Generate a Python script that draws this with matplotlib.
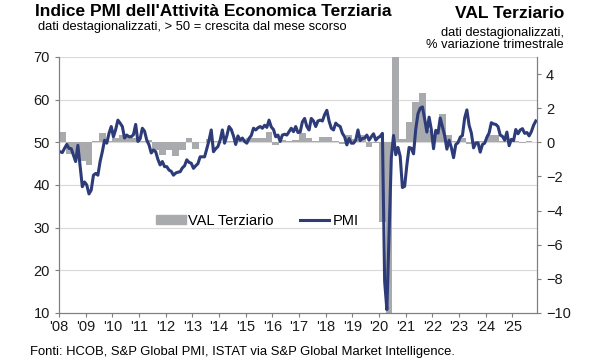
import numpy as np
import matplotlib
matplotlib.use("Agg")
import matplotlib.pyplot as plt
from matplotlib.patches import Patch
from matplotlib.lines import Line2D

plt.rcParams["font.family"] = ["Liberation Sans", "DejaVu Sans"]

# Indice PMI servizi, mensile (gen 2008 - nov 2025)
pmi = [
    47.8, 47.6, 48.6, 49.5, 48.6, 48.5, 47.0, 45.5, 49.3, 44.5, 39.6, 40.7,   # 2008
    40.0, 37.9, 38.8, 42.3, 42.7, 42.3, 45.5, 47.8, 50.5, 49.8, 52.1, 53.7,   # 2009
    51.3, 53.0, 55.2, 54.5, 53.7, 51.0, 51.7, 51.3, 51.3, 51.8, 54.2, 50.2,   # 2010
    50.8, 53.3, 52.6, 50.5, 49.4, 47.5, 48.2, 47.8, 46.0, 44.7, 45.5, 44.3,   # 2011
    44.3, 43.5, 43.2, 42.3, 42.8, 43.0, 43.1, 44.0, 44.5, 45.9, 45.3, 45.1,   # 2012
    43.9, 44.5, 45.0, 46.6, 46.6, 46.6, 48.5, 50.5, 52.9, 47.8, 48.5, 49.0,   # 2013
    50.5, 52.9, 49.8, 51.5, 53.7, 53.0, 51.5, 49.5, 51.5, 50.5, 51.0, 50.2,   # 2014
    49.8, 50.9, 51.6, 53.3, 52.9, 53.4, 53.7, 53.3, 54.0, 53.5, 55.2, 53.6,   # 2015
    53.0, 51.3, 51.7, 50.2, 51.7, 51.9, 51.7, 52.5, 53.3, 52.5, 53.7, 52.3,   # 2016
    52.4, 54.8, 55.6, 53.7, 52.9, 55.6, 55.0, 53.7, 55.0, 55.2, 55.0, 56.5,   # 2017
    57.5, 55.0, 53.3, 52.9, 54.5, 54.0, 53.7, 52.1, 51.3, 49.4, 50.9, 49.8,   # 2018
    49.8, 50.5, 52.9, 50.4, 50.9, 51.0, 51.7, 50.5, 51.3, 52.0, 50.5, 51.1,   # 2019
    51.4, 52.1, 17.4, 10.8, 28.9, 46.4, 51.6, 47.1, 48.8, 46.7, 39.4, 39.7,   # 2020
    44.7, 48.8, 48.6, 47.3, 53.1, 56.7, 58.0, 58.3, 55.5, 52.4, 55.9, 53.0,   # 2021
    48.5, 52.8, 52.1, 55.7, 53.7, 51.6, 48.4, 50.5, 48.8, 46.4, 49.5, 49.9,   # 2022
    51.2, 51.6, 55.7, 57.6, 54.0, 52.2, 48.7, 49.8, 49.9, 47.7, 49.5, 49.8,   # 2023
    51.2, 52.2, 54.6, 54.3, 54.2, 53.7, 51.7, 51.4, 50.5, 52.4, 49.2, 50.7,   # 2024
    50.4, 53.0, 52.0, 52.9, 53.2, 52.1, 52.3, 51.5, 52.5, 54.0, 55.0,         # 2025
]

# VAL terziario, % variazione trimestrale (T1 2008 - T3 2025)
val = [
    0.6, -0.7, -0.7, -1.1,
    -1.35, 0.1, 0.55, 0.1,
    0.25, 0.45, 0.4, 0.23,
    0.1, 0.15, -0.45, -0.75,
    -0.45, -0.8, -0.45, 0.23,
    -0.4, 0.0, 0.2, 0.05,
    0.0, 0.1, 0.05, 0.2,
    0.25, 0.25, 0.27, 0.58,
    -0.16, 0.13, 0.1, 0.15,
    0.55, 0.25, 0.05, 0.3,
    0.3, 0.05, -0.1, 0.45,
    0.2, 0.4, -0.3, -0.05,
    -4.65, -10.5, 12.0, 0.2,
    1.2, 2.38, 2.9, 0.7,
    0.4, 1.65, 0.43, 0.1,
    0.27, -0.12, 0.05, 0.1,
    0.4, 0.4, 0.1, 0.05,
    0.05, -0.05, 0.05,
]

years = list(range(2008, 2026))
year_labels = ["'%02d" % (y % 100) for y in years]

x_pmi = 2008 + (np.arange(len(pmi)) + 0.5) / 12
x_val = 2008 + np.arange(len(val)) * 0.25

navy = "#2d3c78"
grey_bar = "#a8aaad"
axis_col = "#7f7f7f"

fig = plt.figure(figsize=(6, 3.6), dpi=100)
ax = fig.add_axes([0.0983, 0.1306, 0.7967, 0.7111])   # PMI, asse sinistro
ax2 = ax.twinx()                                        # VAL, asse destro
ax2.set_zorder(ax.get_zorder() - 1)
ax.patch.set_visible(False)

ax2.bar(x_val, val, width=0.25, align="edge", color=grey_bar, linewidth=0)
ax2.set_ylim(-10, 5)
ax2.set_yticks(range(-10, 5, 2))

ax.plot(x_pmi, pmi, color=navy, lw=2.2, solid_joinstyle="round")
ax.set_ylim(10, 70)
ax.set_yticks(range(10, 71, 10))
ax.set_xlim(2008, 2025.92)
ax.set_xticks(years)
ax.set_xticklabels(year_labels)

for t in range(20, 71, 10):
    ax2.axhline((t - 50) / 4, color="#d9d9d9", lw=0.8, zorder=0)

for a in (ax, ax2):
    a.spines["top"].set_visible(False)
    for s in ("left", "right", "bottom"):
        a.spines[s].set_color(axis_col)
        a.spines[s].set_linewidth(0.8)
    a.tick_params(colors=axis_col, labelcolor="#1a1a1a", labelsize=10.5, length=3, width=0.8)
ax.tick_params(axis="x", pad=2)

handles = [Patch(color=grey_bar, label="VAL Terziario"),
           Line2D([], [], color=navy, lw=2.2, label="PMI")]
ax.legend(handles=handles, loc="center", bbox_to_anchor=(0.415, 0.36), ncol=2,
          frameon=False, fontsize=10.5, handlelength=2.0, handleheight=0.6,
          columnspacing=1.8, handletextpad=0.2)

fig.text(0.058, 0.967, "Indice PMI dell'Attività Economica Terziaria", fontsize=12.5,
         fontweight="bold", va="center", ha="left")
fig.text(0.063, 0.925, "dati destagionalizzati, > 50 = crescita dal mese scorso",
         fontsize=9.3, va="center", ha="left")
fig.text(0.94, 0.962, "VAL Terziario", fontsize=12.5, fontweight="bold",
         va="center", ha="right")
fig.text(0.94, 0.908, "dati destagionalizzati,", fontsize=9.3, va="center", ha="right")
fig.text(0.94, 0.874, "% variazione trimestrale", fontsize=9.3, va="center", ha="right")
fig.text(0.05, 0.022, "Fonti: HCOB, S&P Global PMI, ISTAT via S&P Global Market Intelligence.",
         fontsize=9.4, va="center", ha="left")

fig.savefig("out.png", dpi=100, facecolor="white")
